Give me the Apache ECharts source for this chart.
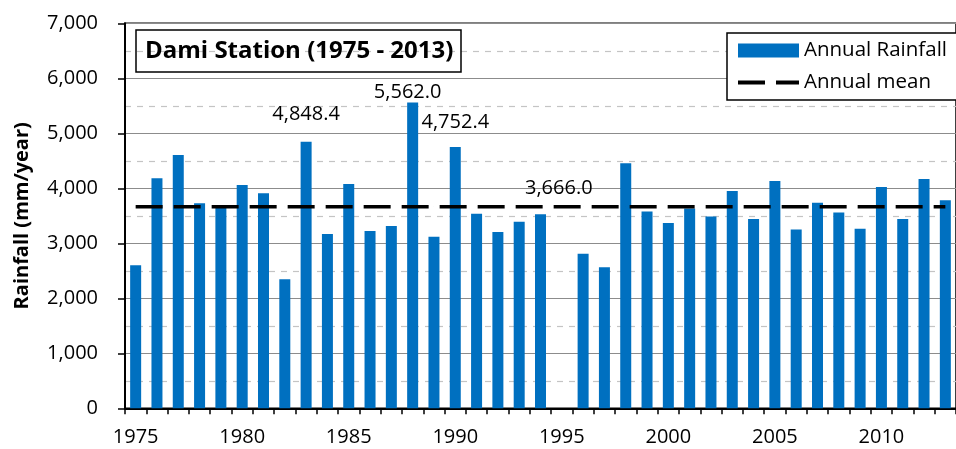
<!DOCTYPE html>
<html>
<head>
<meta charset="utf-8">
<script src="https://cdn.jsdelivr.net/npm/echarts@6/dist/echarts.min.js"></script>
<style>
html,body{margin:0;padding:0;background:#fff;}
#chart{width:956px;height:449px;}
</style>
</head>
<body>
<div id="chart"></div>
<script>
const years = ['1975','1976','1977','1978','1979','1980','1981','1982','1983','1984',
  '1985','1986','1987','1988','1989','1990','1991','1992','1993','1994',
  '1995','1996','1997','1998','1999','2000','2001','2002','2003','2004',
  '2005','2006','2007','2008','2009','2010','2011','2012','2013'];
const rainfall = [2600,4182,4605,3727,3690,4060,3909,2345,4848.4,3169,
  4078,3224,3315,5562.0,3120,4752.4,3538,3206,3393,3527,
  null,2811,2564,4455,3580,3370,3632,3487,3951,3442,
  4133,3250,3736,3560,3265,4024,3442,4169,3782];
const annualMean = 3666.0;
const labelledYears = ['1983','1988','1990'];
const meanLabelYear = '1995';
const yTicks = [0,1000,2000,3000,4000,5000,6000,7000];

const FONT = 'Open Sans';
const fmt = v => v.toLocaleString('en-US',{minimumFractionDigits:1,maximumFractionDigits:1});
const labelOffsets = {'1983':[0,-12],'1988':[-5,5],'1990':[0,-10]};

const barData = rainfall.map((v,i)=>{
  const y = years[i];
  if (labelledYears.includes(y)) {
    return {value:v,label:{show:true,position:'top',offset:labelOffsets[y],
      formatter:p=>fmt(p.value),color:'#000',fontFamily:FONT,fontSize:20}};
  }
  return v;
});
const meanData = years.map(y=>{
  if (y===meanLabelYear) {
    return {value:annualMean,label:{show:true,position:'top',offset:[-3,-3],
      formatter:p=>fmt(p.value),color:'#000',fontFamily:FONT,fontSize:20}};
  }
  return annualMean;
});

const chart = echarts.init(document.getElementById('chart'),null,{renderer:'canvas'});
chart.setOption({
  animation:false,
  backgroundColor:'#fff',
  textStyle:{fontFamily:FONT},
  title:{
    text:'Dami Station (1975 - 2013)',
    left:136, top:30,
    borderColor:'#000', borderWidth:1.5,
    padding:[7,8,7,9],
    textStyle:{fontFamily:FONT,fontWeight:'bold',fontSize:24,color:'#000',lineHeight:28}
  },
  legend:{
    orient:'vertical',
    left:727, top:33,
    padding:[7,20,7,11],
    itemGap:11,
    itemWidth:61, itemHeight:14,
    borderColor:'#000', borderWidth:1.5,
    backgroundColor:'#fff',
    textStyle:{fontFamily:FONT,fontSize:20.5,color:'#000',lineHeight:20},
    data:[
      {name:'Annual Rainfall',icon:'rect'},
      {name:'Annual mean',icon:'path://M0,0h27v4h-27z M38,0h23v4h-23z'}
    ]
  },
  grid:{left:125, top:23.3, bottom:40.7, right:-14, show:true, borderColor:'#000', borderWidth:1.5, backgroundColor:'transparent'},
  xAxis:{
    type:'category',
    data:years,
    axisLine:{lineStyle:{color:'#000',width:2}},
    axisTick:{show:true,interval:0,alignWithLabel:false,length:6,inside:false,lineStyle:{color:'#000',width:1.5}},
    axisLabel:{interval:4,margin:19,color:'#000',fontFamily:FONT,fontSize:20},
    splitLine:{show:false}
  },
  yAxis:{
    type:'value',
    min:0,max:7000,interval:1000,
    name:'Rainfall (mm/year)',
    nameLocation:'middle',
    nameGap:93,
    nameTextStyle:{fontFamily:FONT,fontWeight:'bold',fontSize:20,color:'#000'},
    axisLine:{show:true,lineStyle:{color:'#000',width:2}},
    axisTick:{show:true,length:7,lineStyle:{color:'#000',width:1.5}},
    axisLabel:{margin:27,color:'#000',fontFamily:FONT,fontSize:20,
      formatter:v=>yTicks.includes(v)?v.toLocaleString('en-US'):''},
    splitLine:{show:true,lineStyle:{color:'#8c8c8c',width:1.2}},
    minorTick:{show:false,splitNumber:2},
    minorSplitLine:{show:true,lineStyle:{color:'#c4c4c4',width:1.2,type:[6,6]}}
  },
  series:[
    {
      name:'Annual Rainfall',
      type:'bar',
      data:barData,
      barWidth:11,
      itemStyle:{color:'#0070C0'},
      z:2
    },
    {
      name:'Annual mean',
      type:'line',
      data:meanData,
      symbol:'circle',
      symbolSize:0.1,
      showSymbol:true,
      lineStyle:{color:'#000',width:3.5,type:[27,11]},
      itemStyle:{color:'#000'},
      z:3
    }
  ]
});
</script>
</body>
</html>
